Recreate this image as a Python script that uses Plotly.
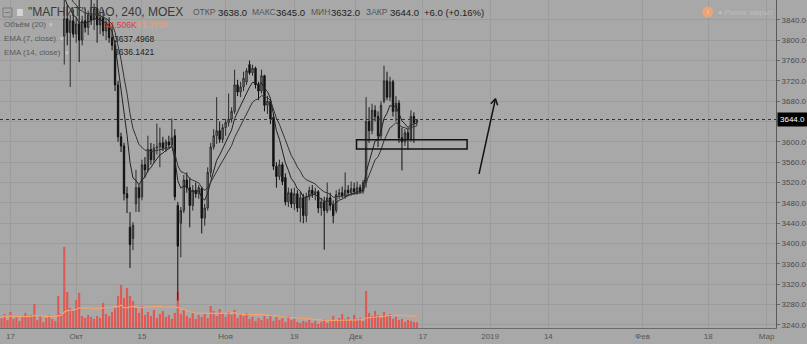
import math
import pandas as pd
import plotly.graph_objects as go

# ---------------- data (4h bars, MGNT MOEX) ----------------
open_ = [3930, 3935, 3950, 3942, 3928, 3945, 3960, 3948, 3932, 3925,
         3940, 3952, 3938, 3920, 3928, 3915, 3908, 3912, 3905, 3902,
         3892, 3808, 3842, 3815, 3838, 3812, 3832, 3800, 3838, 3825,
         3850, 3840, 3862, 3830, 3845, 3818, 3832, 3805, 3790, 3712,
         3610, 3592, 3498, 3432, 3410, 3478, 3510, 3492, 3555, 3545,
         3585, 3565, 3588, 3590, 3598, 3588, 3600, 3594, 3612, 3475,
         3440, 3465, 3525, 3510, 3475, 3505, 3498, 3508, 3450, 3470,
         3540, 3590, 3612, 3622, 3605, 3628, 3638, 3645, 3660, 3712,
         3698, 3708, 3718, 3752, 3736, 3745, 3712, 3700, 3730, 3672,
         3680, 3648, 3552, 3532, 3555, 3530, 3482, 3500, 3478, 3498,
         3470, 3490, 3455, 3492, 3505, 3498, 3502, 3470, 3482, 3465,
         3490, 3475, 3465, 3496, 3500, 3494, 3505, 3500, 3508, 3502,
         3510, 3503, 3520, 3640, 3622, 3662, 3650, 3612, 3680, 3720,
         3688, 3718, 3660, 3676, 3608, 3600, 3618, 3606, 3650, 3638]
high = [3948, 3962, 3958, 3950, 3952, 3972, 3966, 3955, 3940, 3948,
        3962, 3958, 3945, 3936, 3934, 3922, 3920, 3918, 3915, 3910,
        3900, 3898, 3870, 3850, 3860, 3845, 3885, 3848, 3862, 3858,
        3880, 3872, 3890, 3855, 3860, 3842, 3845, 3828, 3800, 3720,
        3618, 3598, 3512, 3462, 3442, 3545, 3515, 3565, 3570, 3612,
        3598, 3596, 3636, 3628, 3610, 3605, 3612, 3646, 3625, 3482,
        3472, 3535, 3540, 3530, 3515, 3520, 3515, 3512, 3478, 3550,
        3598, 3625, 3688, 3640, 3635, 3645, 3695, 3668, 3742, 3722,
        3718, 3738, 3745, 3760, 3752, 3748, 3718, 3742, 3732, 3690,
        3685, 3655, 3560, 3565, 3560, 3538, 3510, 3508, 3510, 3505,
        3502, 3498, 3500, 3512, 3515, 3510, 3505, 3490, 3492, 3520,
        3500, 3485, 3505, 3508, 3512, 3540, 3515, 3522, 3520, 3522,
        3516, 3525, 3688, 3668, 3675, 3672, 3660, 3680, 3750, 3738,
        3728, 3722, 3690, 3682, 3628, 3625, 3626, 3662, 3658, 3645]
low = [3920, 3928, 3935, 3918, 3922, 3940, 3940, 3925, 3915, 3920,
       3935, 3930, 3912, 3914, 3908, 3900, 3902, 3895, 3898, 3886,
       3882, 3752, 3790, 3708, 3805, 3795, 3757, 3790, 3815, 3810,
       3830, 3820, 3795, 3812, 3808, 3800, 3795, 3780, 3700, 3600,
       3580, 3485, 3460, 3352, 3387, 3462, 3462, 3485, 3530, 3540,
       3555, 3558, 3575, 3550, 3582, 3580, 3588, 3590, 3485, 3288,
       3373, 3460, 3500, 3432, 3465, 3490, 3488, 3420, 3435, 3465,
       3530, 3585, 3596, 3598, 3598, 3612, 3630, 3638, 3655, 3690,
       3688, 3700, 3712, 3732, 3730, 3705, 3682, 3695, 3660, 3655,
       3635, 3545, 3510, 3525, 3515, 3475, 3472, 3470, 3466, 3462,
       3442, 3440, 3442, 3485, 3490, 3485, 3460, 3455, 3388, 3460,
       3465, 3440, 3460, 3488, 3490, 3488, 3495, 3494, 3496, 3496,
       3498, 3498, 3510, 3598, 3615, 3640, 3590, 3605, 3676, 3682,
       3680, 3650, 3640, 3598, 3544, 3592, 3585, 3600, 3598, 3632]
close = [3935, 3950, 3942, 3928, 3945, 3960, 3948, 3932, 3925, 3940,
         3952, 3938, 3920, 3928, 3915, 3908, 3912, 3905, 3902, 3892,
         3888, 3842, 3815, 3838, 3812, 3832, 3800, 3838, 3825, 3850,
         3840, 3862, 3830, 3845, 3818, 3832, 3805, 3790, 3712, 3610,
         3592, 3498, 3490, 3398, 3436, 3510, 3490, 3555, 3545, 3585,
         3565, 3588, 3590, 3598, 3588, 3600, 3594, 3608, 3492, 3395,
         3465, 3525, 3510, 3475, 3505, 3498, 3510, 3450, 3470, 3540,
         3590, 3612, 3622, 3605, 3628, 3638, 3645, 3660, 3712, 3698,
         3708, 3725, 3740, 3736, 3745, 3712, 3700, 3730, 3672, 3680,
         3645, 3552, 3532, 3555, 3522, 3482, 3500, 3478, 3498, 3470,
         3490, 3455, 3492, 3505, 3498, 3502, 3470, 3482, 3465, 3490,
         3475, 3455, 3496, 3500, 3494, 3505, 3500, 3508, 3502, 3510,
         3503, 3520, 3640, 3622, 3662, 3650, 3612, 3672, 3720, 3688,
         3718, 3660, 3676, 3608, 3600, 3618, 3606, 3650, 3638, 3644]
volume_k = [75, 105, 60, 120, 68, 90, 53, 90, 113, 83,
            98, 180, 60, 90, 45, 75, 98, 68, 53, 240,
            105, 608, 270, 150, 128, 210, 263, 90, 75, 98,
            83, 68, 90, 75, 188, 105, 90, 120, 150, 240,
            323, 225, 300, 240, 203, 150, 113, 165, 98, 120,
            90, 135, 75, 105, 128, 83, 98, 68, 113, 270,
            105, 135, 90, 75, 113, 68, 98, 83, 105, 75,
            165, 128, 90, 143, 113, 83, 120, 98, 135, 75,
            105, 90, 113, 68, 83, 53, 75, 60, 90, 68,
            98, 53, 83, 60, 75, 45, 90, 60, 68, 45,
            38, 53, 45, 60, 38, 53, 30, 45, 68, 38,
            53, 90, 60, 75, 105, 68, 83, 60, 98, 68,
            75, 53, 278, 113, 90, 128, 98, 75, 120, 90,
            105, 68, 83, 60, 68, 45, 60, 53, 45, 44.506]

tick_pos = [3, 25, 47, 75, 98, 118.5, 141, 163.5, 183, 214.5, 236.5, 256]
tick_text = ["17", "Окт", "15", "Ноя", "19", "Дек", "17", "2019", "14", "Фев", "18", "Мар"]
price_ticks = [3240, 3280, 3320, 3360, 3400, 3440, 3480, 3520, 3560, 3600, 3640, 3680, 3720, 3760, 3800, 3840]
price_tick_text = ["3240.0", "3280.0", "3320.0", "3360.0", "3400.0", "3440.0", "3480.0", "3520.0",
                   "3560.0", "3600.0", "", "3680.0", "3720.0", "3760.0", "3800.0", "3840.0"]

last_price = 3644.0
ohlc_legend = [("ОТКР", "3638.0"), ("МАКС", "3645.0"), ("МИН", "3632.0"), ("ЗАКР", "3644.0")]
change_text = "+6.0 (+0.16%)"
vol_legend = ["44.506K", "81.379K"]
ema_legend = ["3637.4968", "3636.1421"]

# drawings (bar index, price)
box_x = [118.8, 155.8]
box_y = [3586, 3604]
arrow_x = [159.8, 165.3]
arrow_y = [3537, 3685]

# ---------------- derived ----------------
xs = list(range(len(close)))
cs = pd.Series(close, dtype=float)
ema7 = cs.ewm(span=7, adjust=False).mean()
ema14 = cs.ewm(span=14, adjust=False).mean()
vma = pd.Series(volume_k, dtype=float).rolling(20, min_periods=1).mean()

XR = [-0.5, 259.17]
YR = [3234, 3879]
VR = [0, 2460]
W, H = 779, 328
BG = "#a8a8a8"
GRID = "#9c9c9c"
FONT = "Arial, Liberation Sans, sans-serif"

fig = go.Figure()
fig.add_trace(go.Bar(x=xs, y=volume_k, yaxis="y", width=0.72,
                     marker=dict(color="#df5a55", line=dict(width=0)), hoverinfo="skip"))
fig.add_trace(go.Scatter(x=xs, y=vma, yaxis="y", mode="lines",
                         line=dict(color="#f6a26a", width=1.2), hoverinfo="skip"))
fig.add_trace(go.Candlestick(x=xs, open=open_, high=high, low=low, close=close, yaxis="y2",
                             increasing=dict(line=dict(color="#2b2b2b", width=1), fillcolor="#878787"),
                             decreasing=dict(line=dict(color="#111111", width=1), fillcolor="#111111"),
                             whiskerwidth=0, hoverinfo="skip"))
fig.add_trace(go.Scatter(x=xs, y=ema7, yaxis="y2", mode="lines",
                         line=dict(color="#222222", width=1), hoverinfo="skip"))
fig.add_trace(go.Scatter(x=xs, y=ema14, yaxis="y2", mode="lines",
                         line=dict(color="#333333", width=1), hoverinfo="skip"))

shapes = []
# last price dotted line
shapes.append(dict(type="line", xref="paper", x0=0, x1=1, yref="y2", y0=last_price, y1=last_price,
                   line=dict(color="#333333", width=1, dash="dot")))
# rectangle drawing
shapes.append(dict(type="rect", xref="x", yref="y2", x0=box_x[0], x1=box_x[1], y0=box_y[0], y1=box_y[1],
                   line=dict(color="#111111", width=1.5)))
# arrow drawing
shapes.append(dict(type="line", xref="x", yref="y2", x0=arrow_x[0], y0=arrow_y[0], x1=arrow_x[1], y1=arrow_y[1],
                   line=dict(color="#111111", width=1.5)))
ppx = W / (XR[1] - XR[0])
ppy = H / (YR[1] - YR[0])
ang = math.atan2((arrow_y[1] - arrow_y[0]) * ppy, (arrow_x[1] - arrow_x[0]) * ppx)
for sgn in (1, -1):
    a = ang + math.pi + sgn * math.radians(30)
    shapes.append(dict(type="line", xref="x", yref="y2", x0=arrow_x[1], y0=arrow_y[1],
                       x1=arrow_x[1] + 7 * math.cos(a) / ppx, y1=arrow_y[1] + 7 * math.sin(a) / ppy,
                       line=dict(color="#111111", width=1.5)))


def px_x(p):
    return p / W


def px_y(p):
    return 1 - p / H


# header icons
shapes.append(dict(type="rect", xref="paper", yref="paper", x0=px_x(3), x1=px_x(12), y0=px_y(17), y1=px_y(8),
                   line=dict(color="#7a7a7a", width=1)))
shapes.append(dict(type="line", xref="paper", yref="paper", x0=px_x(5), x1=px_x(10), y0=px_y(12.5), y1=px_y(12.5),
                   line=dict(color="#7a7a7a", width=1)))
shapes.append(dict(type="rect", xref="paper", yref="paper", x0=px_x(17), x1=px_x(23), y0=px_y(16), y1=px_y(9),
                   fillcolor="#d4d4d4", line=dict(width=0)))
shapes.append(dict(type="circle", xref="paper", yref="paper", x0=px_x(705), x1=px_x(716), y0=px_y(17.5), y1=px_y(6.5),
                   fillcolor="#e9a57a", line=dict(width=0)))


def ann(px, py, text, size, color, anchor="left"):
    return dict(x=px_x(px), y=px_y(py), xref="paper", yref="paper", text=text, showarrow=False,
                xanchor=anchor, yanchor="middle", font=dict(size=size, color=color, family=FONT))


anns = [ann(26, 12, '"МАГНИТ" ПАО, 240, MOEX', 12, "#3a3a3a")]
lab_x = [192, 251, 310, 365]
val_x = [217, 275, 330, 389]
for (lab, val), lx, vx in zip(ohlc_legend, lab_x, val_x):
    anns.append(ann(lx, 12.5, lab, 8.5, "#555555"))
    anns.append(ann(vx, 12.5, val, 9.5, "#222222"))
anns.append(ann(424, 12.5, change_text, 9.5, "#222222"))
anns.append(ann(2, 25, "Объём (20)", 8, "#595959"))
anns.append(ann(47, 25, "▾", 7, "#c8c8c8"))
anns.append(ann(103, 25, vol_legend[0], 8.5, "#d8403c"))
anns.append(ann(136, 25, vol_legend[1], 8.5, "#ee9f6a"))
anns.append(ann(2, 38.5, "EMA (7, close)", 8, "#595959"))
anns.append(ann(58, 38.5, "▾", 7, "#c8c8c8"))
anns.append(ann(112, 38.5, ema_legend[0], 8.5, "#222222"))
anns.append(ann(2, 52, "EMA (14, close)", 8, "#595959"))
anns.append(ann(63, 52, "▾", 7, "#c8c8c8"))
anns.append(ann(112, 52, ema_legend[1], 8.5, "#222222"))
anns.append(ann(710.5, 12, "!", 8, "#f3d2bd", anchor="center"))
anns.append(ann(719, 12, "● Рынок закрыт", 7.5, "#bdbdbd"))
# last price label on axis
anns.append(dict(x=1, xref="paper", y=last_price, yref="y2", text="3644.0", showarrow=False,
                 xanchor="left", yanchor="middle", bgcolor="#000000", borderpad=2, xshift=1,
                 font=dict(size=8, color="#ffffff", family=FONT)))

fig.update_layout(
    width=807, height=344, autosize=False,
    margin=dict(l=0, r=28, t=0, b=16),
    paper_bgcolor=BG, plot_bgcolor=BG,
    showlegend=False, boxgap=0.35, bargap=0.25,
    shapes=shapes, annotations=anns,
    font=dict(family=FONT, size=8, color="#4a4a4a"),
    xaxis=dict(range=XR, rangeslider=dict(visible=False), tickmode="array",
               tickvals=tick_pos, ticktext=tick_text, showgrid=True, gridcolor=GRID, gridwidth=1,
               showline=True, linecolor="#6a6a6a", linewidth=1, ticks="", zeroline=False,
               tickfont=dict(size=8, color="#555555", family=FONT)),
    yaxis=dict(range=VR, visible=False, showgrid=False, zeroline=False, fixedrange=True),
    yaxis2=dict(range=YR, overlaying="y", side="right", tickmode="array",
                tickvals=price_ticks, ticktext=price_tick_text,
                showgrid=True, gridcolor=GRID, gridwidth=1, ticks="outside", ticklen=3,
                tickcolor="#666666", showline=True, linecolor="#5a5a5a", linewidth=1, zeroline=False,
                tickfont=dict(size=8, color="#4a4a4a", family=FONT)),
)

fig.write_html("out.html")
